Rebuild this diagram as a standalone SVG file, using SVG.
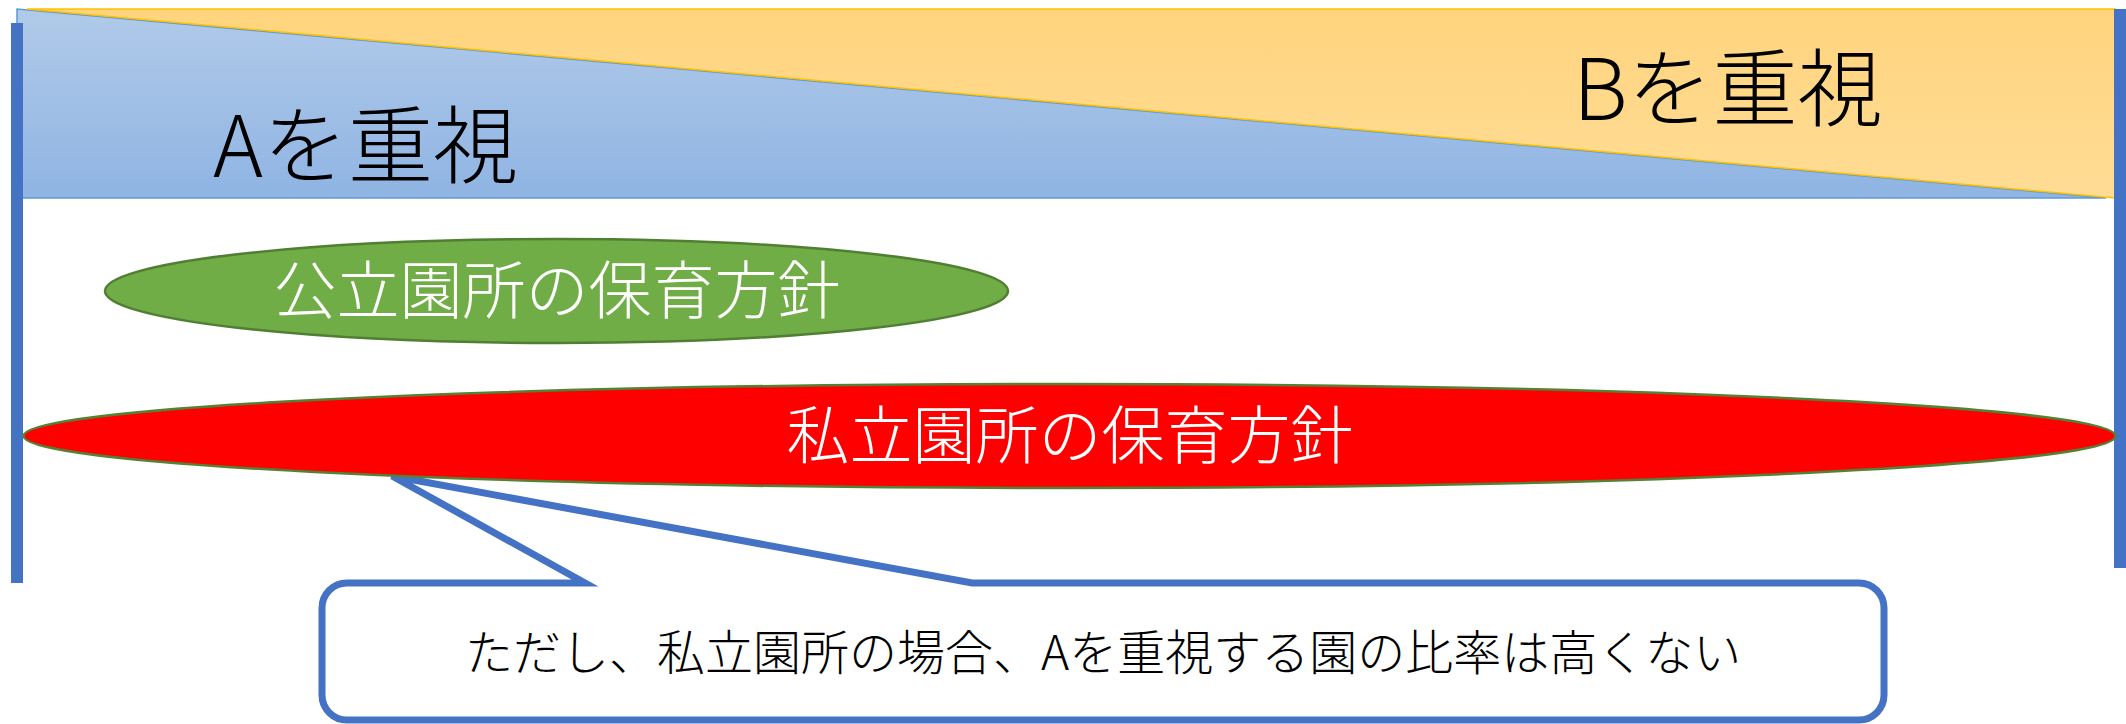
<svg xmlns="http://www.w3.org/2000/svg" width="2126" height="724" viewBox="0 0 2126 724">
<style>
.lbl{font-family:"Noto Sans CJK JP","Noto Sans CJK SC",sans-serif;font-weight:300}
.big{font-size:85px;fill:#000}
.ell{font-size:63px;fill:#fff;text-anchor:middle}
.note{font-size:48px;fill:#000}
.bar{fill:#4472c4}
</style>
<defs>
<linearGradient id="gb" gradientUnits="userSpaceOnUse" x1="0" y1="9" x2="0" y2="198">
<stop offset="0" stop-color="#b1cae9"/><stop offset="1" stop-color="#8fb4e3"/>
</linearGradient>
<linearGradient id="go" gradientUnits="userSpaceOnUse" x1="0" y1="9" x2="0" y2="198">
<stop offset="0" stop-color="#ffd47e"/><stop offset="1" stop-color="#ffdc95"/>
</linearGradient>
</defs>
<rect width="2126" height="724" fill="#fff"/>
<g id="band-a">
<polygon points="17,9 17,198 2106,198" fill="url(#gb)" stroke="#5b9bd5" stroke-width="1.5"/>
<text class="lbl big" x="213" y="177">Aを重視</text>
</g>
<g id="band-b">
<polygon points="27,9 2115,9 2115,198" fill="url(#go)" stroke="#ffc000" stroke-width="1.5"/>
<text class="lbl big" x="1573" y="120">Bを重視</text>
</g>
<g id="connectors">
<rect class="bar" x="11" y="23" width="12" height="560"/>
<rect class="bar" x="2114" y="9" width="12" height="559"/>
</g>
<g id="callout">
<path d="M347,583 H585 L392,476 L972,583 H1859 A25,25 0 0 1 1884,608 V695 A25,25 0 0 1 1859,720 H347 A25,25 0 0 1 322,695 V608 A25,25 0 0 1 347,583 Z" fill="#fff" stroke="#4472c4" stroke-width="7" stroke-linejoin="miter"/>
<text class="lbl note" x="465" y="670">ただし、私立園所の場合、Aを重視する園の比率は高くない</text>
</g>
<g id="public">
<ellipse cx="556.5" cy="291" rx="451.5" ry="52" fill="#70ad47" stroke="#507e32" stroke-width="2.5"/>
<text class="lbl ell" x="557" y="313">公立園所の保育方針</text>
</g>
<g id="private">
<ellipse cx="1069.5" cy="436" rx="1046" ry="52" fill="#ff0000" stroke="#548235" stroke-width="2.5"/>
<text class="lbl ell" x="1070" y="458">私立園所の保育方針</text>
</g>
</svg>
